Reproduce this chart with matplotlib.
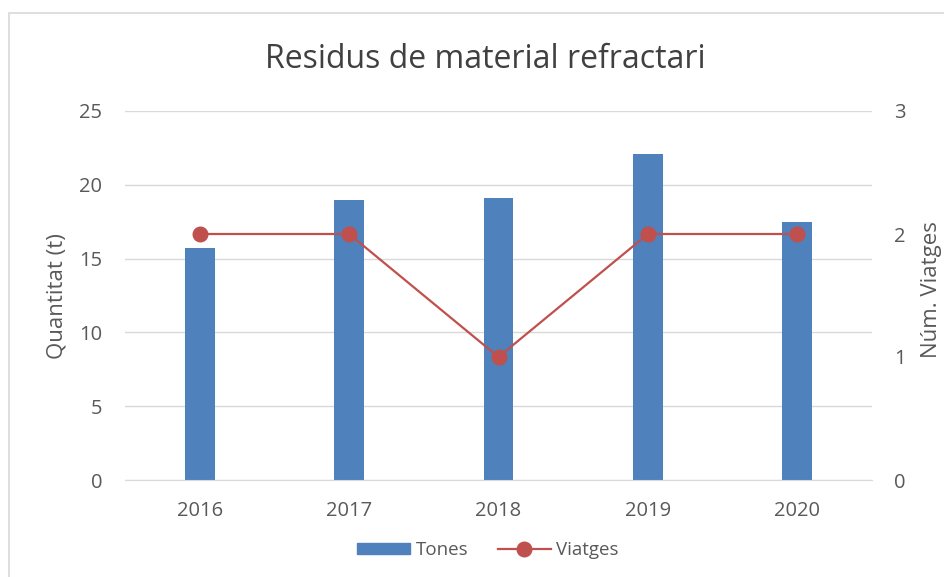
import matplotlib
matplotlib.use('Agg')
import matplotlib.pyplot as plt
import matplotlib.patches as mpatches
from matplotlib.lines import Line2D

# ============================================================
# DATA
# ============================================================
years = ['2016', '2017', '2018', '2019', '2020']
tones = [15.7, 19.0, 19.1, 22.1, 17.5]
viatges = [2, 2, 1, 2, 2]

C_BAR = '#4F81BD'
C_LINE = '#C0504D'
C_TEXT = '#595959'
C_GRID = '#D9D9D9'
FONT = 'Open Sans'

plt.rcParams['font.family'] = [FONT, 'DejaVu Sans']

fig = plt.figure(figsize=(9.44, 5.77), dpi=100, facecolor='white')

# chart border
fig.patches.append(mpatches.Rectangle(
    (9 / 944, -0.01), 1.0, (577 - 13) / 577 + 0.01,
    transform=fig.transFigure, figure=fig,
    facecolor='none', edgecolor=C_GRID, linewidth=1.2))

ax = fig.add_axes([125 / 944, (577 - 480) / 577, 747 / 944, 369 / 577])
ax2 = ax.twinx()

x = list(range(len(years)))
ax.bar(x, tones, width=0.2, color=C_BAR, zorder=2)
ax2.plot(x, viatges, color=C_LINE, linewidth=1.6, marker='o',
         markersize=10.5, zorder=3)

ax.set_xlim(-0.5, len(years) - 0.5)
ax.set_ylim(0, 25)
ax.set_yticks(range(0, 26, 5))
ax2.set_ylim(0, 3)
ax2.set_yticks([0, 1, 2, 3])
ax.set_xticks(x)
ax.set_xticklabels(years)

ax.grid(axis='y', color=C_GRID, linewidth=1.0, zorder=0)
ax.set_axisbelow(True)

for a in (ax, ax2):
    for s in a.spines.values():
        s.set_visible(False)
    a.tick_params(length=0, labelsize=14.5, colors=C_TEXT)
ax.spines['bottom'].set_visible(True)
ax.spines['bottom'].set_color(C_GRID)
ax.tick_params(axis='y', pad=16.5)
ax2.tick_params(axis='y', pad=16)
ax.tick_params(axis='x', pad=15)

# axis titles
fig.text(57.5 / 944, (577 - 296) / 577, 'Quantitat (t)', rotation=90,
         fontsize=16, color=C_TEXT, ha='center', va='center')
fig.text(931 / 944, (577 - 290) / 577, 'Núm. Viatges', rotation=90,
         fontsize=16, color=C_TEXT, ha='center', va='center')

fig.text(485 / 944, (577 - 59) / 577, 'Residus de material refractari',
         fontsize=23, color='#404040', ha='center', va='center')

# legend
handles = [mpatches.Patch(color=C_BAR, label='Tones'),
           Line2D([0], [0], color=C_LINE, linewidth=1.6, marker='o',
                  markersize=10.5, label='Viatges')]
leg = fig.legend(handles=handles, loc='center',
                 bbox_to_anchor=(488 / 944, (577 - 550) / 577), ncol=2,
                 frameon=False, fontsize=13.5, handlelength=2.8,
                 handleheight=0.55, columnspacing=1.6, handletextpad=0.3)
for t in leg.get_texts():
    t.set_color(C_TEXT)

plt.savefig('out.png', dpi=100, facecolor='white')
plt.close()
